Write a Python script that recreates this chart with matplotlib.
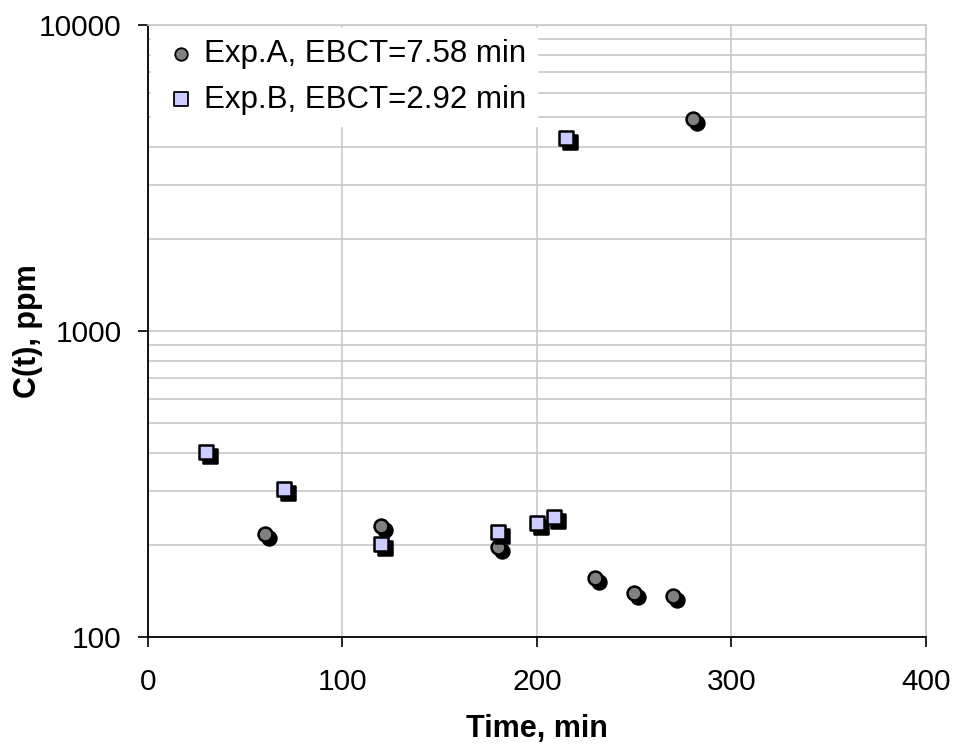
"""Breakthrough curves C(t) for two EBCT experiments, log scale."""

import matplotlib
matplotlib.use("Agg")
import matplotlib.pyplot as plt
import matplotlib.transforms as mtransforms
from matplotlib.ticker import FixedLocator, NullFormatter

# Exp.A, EBCT = 7.58 min
time_a = [60, 120, 180, 230, 250, 270, 280]
conc_a = [217, 230, 197, 156, 139, 136, 4930]

# Exp.B, EBCT = 2.92 min
time_b = [30, 70, 120, 180, 200, 209, 215]
conc_b = [401, 304, 202, 221, 235, 246, 4270]

label_a = "Exp.A, EBCT=7.58 min"
label_b = "Exp.B, EBCT=2.92 min"


def main():
    plt.rcParams["font.family"] = ["Liberation Sans", "DejaVu Sans"]

    fig = plt.figure(figsize=(9.56, 7.46), dpi=100)
    ax = fig.add_axes([0.1548, 0.1461, 0.8138, 0.8204])

    ax.set_yscale("log")
    ax.set_xlim(0, 400)
    ax.set_ylim(100, 10000)

    # gridlines: vertical every 100, horizontal at each log step
    minor_y = [v * d for d in (100, 1000) for v in range(2, 10)]
    ax.yaxis.set_minor_locator(FixedLocator(minor_y))
    ax.yaxis.set_minor_formatter(NullFormatter())
    ax.set_xticks([0, 100, 200, 300, 400])
    ax.set_yticks([100, 1000, 10000])
    ax.set_yticklabels(["100", "1000", "10000"])
    ax.grid(True, which="both", axis="y", color="#c8c8c8", lw=1.2, zorder=0)
    ax.grid(True, which="major", axis="x", color="#c8c8c8", lw=1.2, zorder=0)
    ax.tick_params(which="minor", length=0)
    ax.tick_params(which="major", direction="out", length=7, width=1.2,
                   labelsize=21.5)
    ax.tick_params(axis="x", pad=15)
    ax.tick_params(axis="y", pad=12)

    for side in ("top", "right"):
        ax.spines[side].set_color("#c8c8c8")
        ax.spines[side].set_linewidth(1.2)
    for side in ("left", "bottom"):
        ax.spines[side].set_linewidth(1.3)

    # Excel-style drop shadow: black copy shifted 4 px right / 4 px down
    shadow = ax.transData + mtransforms.ScaledTranslation(4 / 100, -4 / 100, fig.dpi_scale_trans)

    ax.scatter(time_a, conc_a, s=100, marker="o", color="black", transform=shadow,
               zorder=3, linewidths=1.8, edgecolor="black")
    ax.scatter(time_a, conc_a, s=100, marker="o", facecolor="#808080", edgecolor="black",
               linewidths=1.8, zorder=4, label=label_a)
    ax.scatter(time_b, conc_b, s=110, marker="s", color="black", transform=shadow,
               zorder=5, linewidths=1.8, edgecolor="black")
    ax.scatter(time_b, conc_b, s=110, marker="s", facecolor="#ccccff", edgecolor="black",
               linewidths=1.8, zorder=6, label=label_b)

    leg = ax.legend(loc="upper left", bbox_to_anchor=(0.0, 1.0), fontsize=22.5,
                    frameon=True, fancybox=False, framealpha=1.0, edgecolor="white",
                    markerscale=0.9, handletextpad=0.15, handlelength=1.2,
                    borderpad=0.35, labelspacing=0.5, borderaxespad=0.1)
    leg.set_zorder(10)
    for h in leg.legend_handles:
        h.set_linewidth(1.3)

    ax.set_xlabel("Time, min", fontsize=22, fontweight="bold", labelpad=13)
    ax.set_ylabel("C(t), ppm", fontsize=22, fontweight="bold", labelpad=-3)

    fig.savefig("out.png", dpi=100)


if __name__ == "__main__":
    main()
